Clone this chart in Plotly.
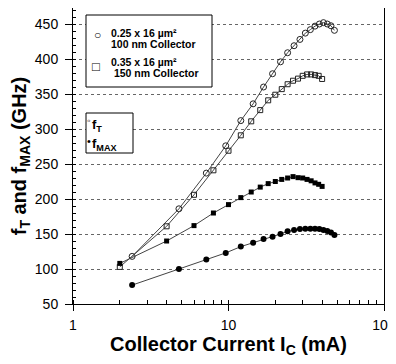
import plotly.graph_objects as go

# Series A: 0.25 x 16 um^2, fT (open circles)
ic_a = [2.4, 4.8, 7.2, 9.6, 12.0, 14.4, 16.8, 19.2, 21.6, 24.0, 26.4, 28.8, 31.2, 33.6, 36.0, 38.4, 40.8, 43.2, 45.6, 48.0]
ft_a = [118, 186, 237, 276, 312, 336, 360, 379, 396, 409, 419, 428, 437, 442, 447, 450, 452, 450, 447.5, 441]
# Series D: 0.25 x 16 um^2, fMAX (filled circles)
fmax_a = [77, 100, 113.5, 123, 132, 137.6, 143, 146, 150, 154, 155.7, 157, 157.6, 157.6, 157.6, 157, 155.7, 154.3, 152, 148.6]

# Series B: 0.35 x 16 um^2, fT (open squares)
ic_b = [2, 4, 6, 8, 10, 12, 14, 16, 18, 20, 22, 24, 26, 28, 30, 32, 34, 36, 38, 40]
ft_b = [103, 161, 206, 241, 269, 291, 311, 327, 341, 349, 357, 364, 369, 372, 376, 378, 378, 377, 376, 371.5]
# Series C: 0.35 x 16 um^2, fMAX (filled squares)
fmax_b = [108, 140, 162, 180, 192, 202, 210, 217, 222, 225, 228, 230, 232, 230.5, 230, 228, 226, 223, 221, 218]

x_ticks = [1, 10, 100]
x_ticklabels = ["1", "10", "100"]

FONT = "Liberation Sans, Arial, sans-serif"
OFF = 8  # page body margin
W, H = 396 - OFF, 364 - OFF
L, R, T, B = 73 - OFF, 12, 0, 60
PW, PH = W - L - R, H - T - B


def px(x):
    # x in page pixels -> paper fraction
    return (x - OFF - L) / PW


def py(y):
    # y in page pixels -> paper fraction
    return (H - B - (y - OFF)) / PH


fig = go.Figure()
line = dict(color="#444444", width=1)
fig.add_trace(go.Scatter(x=ic_a, y=ft_a, mode="lines+markers", line=line,
                         marker=dict(symbol="circle-open", size=6, color="#222222", line=dict(width=1))))
fig.add_trace(go.Scatter(x=ic_b, y=ft_b, mode="lines+markers", line=line,
                         marker=dict(symbol="square-open", size=5, color="#222222", line=dict(width=1))))
fig.add_trace(go.Scatter(x=ic_b, y=fmax_b, mode="lines+markers", line=line,
                         marker=dict(symbol="square", size=5, color="black")))
fig.add_trace(go.Scatter(x=ic_a, y=fmax_a, mode="lines+markers", line=line,
                         marker=dict(symbol="circle", size=6, color="black")))

shapes = [
    dict(type="rect", xref="paper", yref="paper", x0=px(86), x1=px(212), y0=py(87), y1=py(15),
         line=dict(color="black", width=1), fillcolor="white", layer="above"),
    dict(type="rect", xref="paper", yref="paper", x0=px(86), x1=px(133), y0=py(153), y1=py(113),
         line=dict(color="black", width=1), fillcolor="white", layer="above"),
]

ann = []


def add_text(text, x, y, size=10, xanchor="left"):
    ann.append(dict(text=text, x=px(x), y=py(y), xref="paper", yref="paper", showarrow=False,
                    xanchor=xanchor, yanchor="middle", font=dict(family=FONT, size=size, color="black")))


add_text("<b>0.25 x 16 µm²</b>", 109, 33, size=10.5)
add_text("<b>100 nm Collector</b>", 109, 44, size=10.5)
add_text("<b>0.35 x 16 µm²</b>", 109, 62, size=10.5)
add_text("<b> 150 nm Collector</b>", 109, 73, size=10.5)
add_text("○", 97, 35, size=12, xanchor="center")
add_text("□", 96, 66, size=13, xanchor="center")
add_text("◦", 88.5, 120, size=10, xanchor="center")
add_text("•", 88.5, 141, size=11, xanchor="center")
add_text("<b>f<sub>T</sub></b>", 90, 125, size=13)
add_text("<b>f<sub>MAX</sub></b>", 90, 144, size=13)

fig.update_layout(
    width=W, height=H,
    margin=dict(l=L, r=R, t=T, b=B),
    plot_bgcolor="white", paper_bgcolor="white",
    showlegend=False,
    font=dict(family=FONT, color="black"),
    shapes=shapes, annotations=ann,
    xaxis=dict(type="log", range=[0, 2], tickvals=x_ticks, ticktext=x_ticklabels,
               ticks="outside", ticklen=6, tickcolor="black", showline=True, linecolor="black",
               linewidth=1, mirror=True, showgrid=False, zeroline=False,
               ticklabeloverflow="allow", ticklabelstandoff=2,
               tickfont=dict(size=14, family=FONT),
               minor=dict(ticks="inside", ticklen=4, dtick="D1", tickcolor="black", showgrid=False),
               title=dict(text="<b>Collector Current I<sub>C</sub> (mA)</b>",
                          font=dict(size=20, family=FONT), standoff=4)),
    yaxis=dict(range=[50, 472.9], tick0=50, dtick=50, ticks="outside", ticklen=7, tickcolor="black",
               showline=True, linecolor="black", linewidth=1, mirror=True,
               showgrid=True, gridcolor="#666666", gridwidth=1, griddash="3px,3px", zeroline=False,
               ticklabelstandoff=4,
               tickfont=dict(size=14, family=FONT),
               minor=dict(ticks="inside", ticklen=3, dtick=10, tickcolor="black", showgrid=False),
               title=dict(text="<b>f<sub>T</sub> and f<sub>MAX</sub> (GHz)</b>",
                          font=dict(size=20, family=FONT), standoff=10)),
)

fig.write_html("out.html")
